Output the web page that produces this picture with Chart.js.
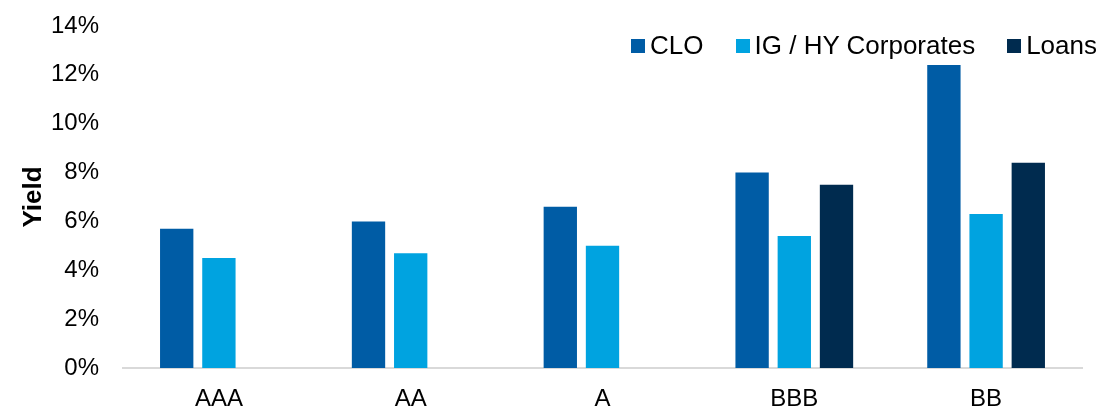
<!DOCTYPE html>
<html>
<head>
<meta charset="utf-8">
<script src="https://cdn.jsdelivr.net/npm/chart.js@4"></script>
<style>
  body { margin: 0; background: #fff; }
  .wrap { position: relative; width: 1102px; height: 410px; }
  #legend { position: absolute; top: 30px; right: 5px; display: flex; align-items: center;
            font-family: 'Liberation Sans', Arial, sans-serif; font-size: 26px; color: #000; }
  #legend .item { display: flex; align-items: center; margin-left: 32px; }
  #legend .box { width: 14px; height: 14px; margin-right: 5px; }
</style>
</head>
<body>
<div class="wrap">
  <canvas id="chart" width="1102" height="410"></canvas>
  <div id="legend"></div>
</div>
<script>
const ratings = ['AAA', 'AA', 'A', 'BBB', 'BB']
const clo = [5.7, 6.0, 6.6, 8.0, 12.4]
const corporates = [4.5, 4.7, 5.0, 5.4, 6.3]
const loans = [null, null, null, 7.5, 8.4]
const yTicks = [0, 2, 4, 6, 8, 10, 12, 14]

Chart.defaults.font.family = "'Liberation Sans', Arial, sans-serif"
Chart.defaults.color = '#000'

const chart = new Chart(document.getElementById('chart'), {
  type: 'bar',
  data: {
    labels: ratings,
    datasets: [
      { label: 'CLO', data: clo, backgroundColor: '#005CA5' },
      { label: 'IG / HY Corporates', data: corporates, backgroundColor: '#00A3E0' },
      { label: 'Loans', data: loans, backgroundColor: '#002B4F' },
    ],
  },
  options: {
    responsive: false,
    animation: false,
    categoryPercentage: 0.66,
    barPercentage: 0.79,
    layout: { padding: { top: 26, right: 20, bottom: 0, left: 0 } },
    plugins: { legend: { display: false }, tooltip: { enabled: false } },
    scales: {
      x: {
        grid: { display: false },
        border: { display: true, color: '#d9d9d9', width: 2 },
        ticks: { font: { size: 24 }, padding: 9 },
        afterFit: (scale) => { scale.height = 42 },
      },
      y: {
        min: yTicks[0],
        max: yTicks[yTicks.length - 1],
        grid: { display: false, drawTicks: false },
        border: { display: false },
        afterBuildTicks: (scale) => { scale.ticks = yTicks.map((v) => ({ value: v })) },
        ticks: { font: { size: 24 }, padding: 24, callback: (v) => v + '%' },
        title: { display: true, text: 'Yield', font: { size: 26, weight: 'bold' }, padding: { top: 18 } },
        afterFit: (scale) => {
          scale.width = 123
          scale.paddingTop = 0
          scale.paddingBottom = 0
        },
      },
    },
  },
})

// legend built from the datasets
const legend = document.getElementById('legend')
chart.data.datasets.forEach((ds) => {
  const item = document.createElement('div')
  item.className = 'item'
  const box = document.createElement('span')
  box.className = 'box'
  box.style.background = ds.backgroundColor
  item.appendChild(box)
  item.appendChild(document.createTextNode(ds.label))
  legend.appendChild(item)
})
</script>
</body>
</html>
